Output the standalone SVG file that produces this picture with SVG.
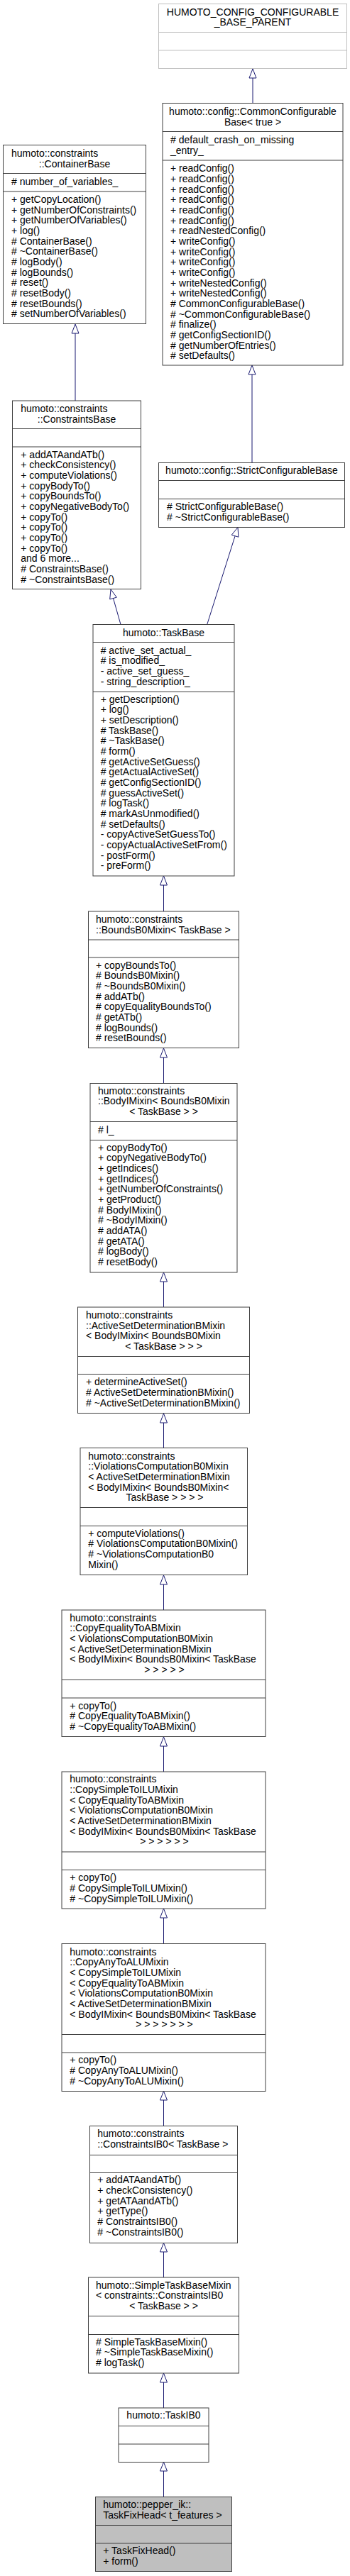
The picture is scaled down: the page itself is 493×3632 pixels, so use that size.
<svg xmlns="http://www.w3.org/2000/svg" width="493" height="3632" viewBox="0 0 493 3632">
<style>
text{font-family:"Liberation Sans",Arial,Helvetica,sans-serif;font-size:14px;fill:#000}
.c{text-anchor:middle}
.box{fill:#fff;stroke:#404040;stroke-width:1}
.lbox{fill:#fff;stroke:#bfbfbf;stroke-width:1}
.gbox{fill:#bfbfbf;stroke:#404040;stroke-width:1}
.sep{stroke:#404040;stroke-width:1}
.lsep{stroke:#bfbfbf;stroke-width:1}
.edge{stroke:#191970;stroke-width:1;fill:none}
.head{fill:#fff;stroke:#191970;stroke-width:1}
</style>
<rect width="493" height="3632" fill="#fff"/>
<g id="connectors">
<path class="edge" d="M356,110 V145.5"/><polygon class="head" points="356,97 351,110 361,110"/>
<path class="edge" d="M106,470 V565"/><polygon class="head" points="106,457 101,470 111,470"/>
<path class="edge" d="M355,528 V652.5"/><polygon class="head" points="355,515 350,528 360,528"/>
<path class="edge" d="M159.5,843.5 L170,880.5"/><polygon class="head" points="156,831 164.3,842.2 154.7,844.9"/>
<path class="edge" d="M331.1,755.7 L291.7,880.5"/><polygon class="head" points="335,743.5 335.9,757.2 326.3,754.2"/>
<path class="edge" d="M230.5,1248 V1285"/><polygon class="head" points="230.5,1235 225.5,1248 235.5,1248"/>
<path class="edge" d="M230.5,1491 V1527"/><polygon class="head" points="230.5,1478 225.5,1491 235.5,1491"/>
<path class="edge" d="M230.5,1807 V1843"/><polygon class="head" points="230.5,1794 225.5,1807 235.5,1807"/>
<path class="edge" d="M230.5,2006 V2041.5"/><polygon class="head" points="230.5,1993 225.5,2006 235.5,2006"/>
<path class="edge" d="M230.5,2234 V2270"/><polygon class="head" points="230.5,2221 225.5,2234 235.5,2234"/>
<path class="edge" d="M230.5,2462 V2498"/><polygon class="head" points="230.5,2449 225.5,2462 235.5,2462"/>
<path class="edge" d="M230.5,2704 V2740.5"/><polygon class="head" points="230.5,2691 225.5,2704 235.5,2704"/>
<path class="edge" d="M230.5,2961 V2997.5"/><polygon class="head" points="230.5,2948.5 225.5,2961 235.5,2961"/>
<path class="edge" d="M230.5,3175 V3211"/><polygon class="head" points="230.5,3162.5 225.5,3175 235.5,3175"/>
<path class="edge" d="M230.5,3359 V3395"/><polygon class="head" points="230.5,3346 225.5,3359 235.5,3359"/>
<path class="edge" d="M230.5,3484 V3520.5"/><polygon class="head" points="230.5,3471.5 225.5,3484 235.5,3484"/>
</g>
<g id="n1">
<rect class="lbox" x="223.5" y="5.5" width="265" height="91"/>
<line class="lsep" x1="223.5" y1="45.5" x2="488.5" y2="45.5"/>
<line class="lsep" x1="223.5" y1="71" x2="488.5" y2="71"/>
<text class="c" x="356" y="21.7">HUMOTO_CONFIG_CONFIGURABLE</text>
<text class="c" x="356" y="36.4">_BASE_PARENT</text>
</g>
<g id="n2">
<rect class="box" x="229" y="145.5" width="254" height="369.5"/>
<line class="sep" x1="229" y1="185.5" x2="483" y2="185.5"/>
<line class="sep" x1="229" y1="226" x2="483" y2="226"/>
<text class="c" x="356" y="162.3">humoto::config::CommonConfigurable</text>
<text class="c" x="356" y="177">Base&lt; true &gt;</text>
<text x="240" y="202.3">#  default_crash_on_missing<tspan x="240" dy="14.67">_entry_</tspan></text>
<text x="240" y="242.3">+ readConfig()<tspan x="240" dy="14.67">+ readConfig()</tspan><tspan x="240" dy="14.67">+ readConfig()</tspan><tspan x="240" dy="14.67">+ readConfig()</tspan><tspan x="240" dy="14.67">+ readConfig()</tspan><tspan x="240" dy="14.67">+ readConfig()</tspan><tspan x="240" dy="14.67">+ readNestedConfig()</tspan><tspan x="240" dy="14.67">+ writeConfig()</tspan><tspan x="240" dy="14.67">+ writeConfig()</tspan><tspan x="240" dy="14.67">+ writeConfig()</tspan><tspan x="240" dy="14.67">+ writeConfig()</tspan><tspan x="240" dy="14.67">+ writeNestedConfig()</tspan><tspan x="240" dy="14.67">+ writeNestedConfig()</tspan><tspan x="240" dy="14.67"># CommonConfigurableBase()</tspan><tspan x="240" dy="14.67"># ~CommonConfigurableBase()</tspan><tspan x="240" dy="14.67"># finalize()</tspan><tspan x="240" dy="14.67"># getConfigSectionID()</tspan><tspan x="240" dy="14.67"># getNumberOfEntries()</tspan><tspan x="240" dy="14.67"># setDefaults()</tspan></text>
</g>
<g id="n3">
<rect class="box" x="4.5" y="204.5" width="201" height="252"/>
<line class="sep" x1="4.5" y1="244.5" x2="205.5" y2="244.5"/>
<line class="sep" x1="4.5" y1="270" x2="205.5" y2="270"/>
<text x="16" y="221">humoto::constraints</text>
<text class="c" x="105" y="235.5">::ContainerBase</text>
<text x="16" y="261"># number_of_variables_</text>
<text x="16" y="286">+ getCopyLocation()<tspan x="16" dy="14.67">+ getNumberOfConstraints()</tspan><tspan x="16" dy="14.67">+ getNumberOfVariables()</tspan><tspan x="16" dy="14.67">+ log()</tspan><tspan x="16" dy="14.67"># ContainerBase()</tspan><tspan x="16" dy="14.67"># ~ContainerBase()</tspan><tspan x="16" dy="14.67"># logBody()</tspan><tspan x="16" dy="14.67"># logBounds()</tspan><tspan x="16" dy="14.67"># reset()</tspan><tspan x="16" dy="14.67"># resetBody()</tspan><tspan x="16" dy="14.67"># resetBounds()</tspan><tspan x="16" dy="14.67"># setNumberOfVariables()</tspan></text>
</g>
<g id="n4">
<rect class="box" x="17.5" y="565" width="181" height="265.5"/>
<line class="sep" x1="17.5" y1="604.5" x2="198.5" y2="604.5"/>
<line class="sep" x1="17.5" y1="630" x2="198.5" y2="630"/>
<text x="29.3" y="581">humoto::constraints</text>
<text class="c" x="108" y="595.5">::ConstraintsBase</text>
<text x="29.3" y="645.7">+ addATAandATb()<tspan x="29.3" dy="14.67">+ checkConsistency()</tspan><tspan x="29.3" dy="14.67">+ computeViolations()</tspan><tspan x="29.3" dy="14.67">+ copyBodyTo()</tspan><tspan x="29.3" dy="14.67">+ copyBoundsTo()</tspan><tspan x="29.3" dy="14.67">+ copyNegativeBodyTo()</tspan><tspan x="29.3" dy="14.67">+ copyTo()</tspan><tspan x="29.3" dy="14.67">+ copyTo()</tspan><tspan x="29.3" dy="14.67">+ copyTo()</tspan><tspan x="29.3" dy="14.67">+ copyTo()</tspan><tspan x="29.3" dy="14.67">and 6 more...</tspan><tspan x="29.3" dy="14.67"># ConstraintsBase()</tspan><tspan x="29.3" dy="14.67"># ~ConstraintsBase()</tspan></text>
</g>
<g id="n5">
<rect class="box" x="223.5" y="652.5" width="262" height="91"/>
<line class="sep" x1="223.5" y1="677.5" x2="485.5" y2="677.5"/>
<line class="sep" x1="223.5" y1="703.5" x2="485.5" y2="703.5"/>
<text class="c" x="354.5" y="668.3">humoto::config::StrictConfigurableBase</text>
<text x="235" y="719"># StrictConfigurableBase()<tspan x="235" dy="14.67"># ~StrictConfigurableBase()</tspan></text>
</g>
<g id="n6">
<rect class="box" x="131" y="880.5" width="199" height="354.5"/>
<line class="sep" x1="131" y1="905.5" x2="330" y2="905.5"/>
<line class="sep" x1="131" y1="975.5" x2="330" y2="975.5"/>
<text class="c" x="230.5" y="896.7">humoto::TaskBase</text>
<text x="141.7" y="921.7"># active_set_actual_<tspan x="141.7" dy="14.67"># is_modified_</tspan><tspan x="141.7" dy="14.67">- active_set_guess_</tspan><tspan x="141.7" dy="14.67">- string_description_</tspan></text>
<text x="141.7" y="990.7">+ getDescription()<tspan x="141.7" dy="14.67">+ log()</tspan><tspan x="141.7" dy="14.67">+ setDescription()</tspan><tspan x="141.7" dy="14.67"># TaskBase()</tspan><tspan x="141.7" dy="14.67"># ~TaskBase()</tspan><tspan x="141.7" dy="14.67"># form()</tspan><tspan x="141.7" dy="14.67"># getActiveSetGuess()</tspan><tspan x="141.7" dy="14.67"># getActualActiveSet()</tspan><tspan x="141.7" dy="14.67"># getConfigSectionID()</tspan><tspan x="141.7" dy="14.67"># guessActiveSet()</tspan><tspan x="141.7" dy="14.67"># logTask()</tspan><tspan x="141.7" dy="14.67"># markAsUnmodified()</tspan><tspan x="141.7" dy="14.67"># setDefaults()</tspan><tspan x="141.7" dy="14.67">- copyActiveSetGuessTo()</tspan><tspan x="141.7" dy="14.67">- copyActualActiveSetFrom()</tspan><tspan x="141.7" dy="14.67">- postForm()</tspan><tspan x="141.7" dy="14.67">- preForm()</tspan></text>
</g>
<g id="n7">
<rect class="box" x="124.5" y="1285" width="212" height="192.5"/>
<line class="sep" x1="124.5" y1="1325" x2="336.5" y2="1325"/>
<line class="sep" x1="124.5" y1="1350" x2="336.5" y2="1350"/>
<text x="135" y="1301">humoto::constraints<tspan x="135" dy="14.67">::BoundsB0Mixin&lt; TaskBase &gt;</tspan></text>
<text x="135" y="1365.7">+ copyBoundsTo()<tspan x="135" dy="14.67"># BoundsB0Mixin()</tspan><tspan x="135" dy="14.67"># ~BoundsB0Mixin()</tspan><tspan x="135" dy="14.67"># addATb()</tspan><tspan x="135" dy="14.67"># copyEqualityBoundsTo()</tspan><tspan x="135" dy="14.67"># getATb()</tspan><tspan x="135" dy="14.67"># logBounds()</tspan><tspan x="135" dy="14.67"># resetBounds()</tspan></text>
</g>
<g id="n8">
<rect class="box" x="127" y="1527.5" width="207" height="266.5"/>
<line class="sep" x1="127" y1="1581.5" x2="334" y2="1581.5"/>
<line class="sep" x1="127" y1="1607.5" x2="334" y2="1607.5"/>
<text x="138" y="1542.7">humoto::constraints<tspan x="138" dy="14.67">::BodyIMixin&lt; BoundsB0Mixin</tspan></text>
<text class="c" x="230.5" y="1572">&lt; TaskBase &gt; &gt;</text>
<text x="138" y="1598.3"># l_</text>
<text x="138" y="1622.7">+ copyBodyTo()<tspan x="138" dy="14.67">+ copyNegativeBodyTo()</tspan><tspan x="138" dy="14.67">+ getIndices()</tspan><tspan x="138" dy="14.67">+ getIndices()</tspan><tspan x="138" dy="14.67">+ getNumberOfConstraints()</tspan><tspan x="138" dy="14.67">+ getProduct()</tspan><tspan x="138" dy="14.67"># BodyIMixin()</tspan><tspan x="138" dy="14.67"># ~BodyIMixin()</tspan><tspan x="138" dy="14.67"># addATA()</tspan><tspan x="138" dy="14.67"># getATA()</tspan><tspan x="138" dy="14.67"># logBody()</tspan><tspan x="138" dy="14.67"># resetBody()</tspan></text>
</g>
<g id="n9">
<rect class="box" x="109.5" y="1843" width="242" height="149.5"/>
<line class="sep" x1="109.5" y1="1912.5" x2="351.5" y2="1912.5"/>
<line class="sep" x1="109.5" y1="1937.5" x2="351.5" y2="1937.5"/>
<text x="121" y="1859">humoto::constraints<tspan x="121" dy="14.67">::ActiveSetDeterminationBMixin</tspan><tspan x="121" dy="14.67">&lt; BodyIMixin&lt; BoundsB0Mixin</tspan></text>
<text class="c" x="230.5" y="1903">&lt; TaskBase &gt; &gt; &gt;</text>
<text x="121" y="1953.3">+ determineActiveSet()<tspan x="121" dy="14.67"># ActiveSetDeterminationBMixin()</tspan><tspan x="121" dy="14.67"># ~ActiveSetDeterminationBMixin()</tspan></text>
</g>
<g id="n10">
<rect class="box" x="113" y="2041.5" width="235.5" height="179"/>
<line class="sep" x1="113" y1="2125.5" x2="348.5" y2="2125.5"/>
<line class="sep" x1="113" y1="2151.5" x2="348.5" y2="2151.5"/>
<text x="124.3" y="2057.7">humoto::constraints<tspan x="124.3" dy="14.67">::ViolationsComputationB0Mixin</tspan><tspan x="124.3" dy="14.67">&lt; ActiveSetDeterminationBMixin</tspan><tspan x="124.3" dy="14.67">&lt; BodyIMixin&lt; BoundsB0Mixin&lt;</tspan></text>
<text class="c" x="232" y="2116.3">TaskBase &gt; &gt; &gt; &gt;</text>
<text x="124.3" y="2166.7">+ computeViolations()<tspan x="124.3" dy="14.67"># ViolationsComputationB0Mixin()</tspan><tspan x="124.3" dy="14.67"># ~ViolationsComputationB0</tspan><tspan x="124.3" dy="14.67">Mixin()</tspan></text>
</g>
<g id="n11">
<rect class="box" x="87" y="2270" width="287" height="178.5"/>
<line class="sep" x1="87" y1="2368.5" x2="374" y2="2368.5"/>
<line class="sep" x1="87" y1="2394" x2="374" y2="2394"/>
<text x="98.3" y="2285.7">humoto::constraints<tspan x="98.3" dy="14.67">::CopyEqualityToABMixin</tspan><tspan x="98.3" dy="14.67">&lt; ViolationsComputationB0Mixin</tspan><tspan x="98.3" dy="14.67">&lt; ActiveSetDeterminationBMixin</tspan><tspan x="98.3" dy="14.67">&lt; BodyIMixin&lt; BoundsB0Mixin&lt; TaskBase</tspan></text>
<text class="c" x="231.5" y="2359">&gt; &gt; &gt; &gt; &gt;</text>
<text x="98.3" y="2409.5">+ copyTo()<tspan x="98.3" dy="14.67"># CopyEqualityToABMixin()</tspan><tspan x="98.3" dy="14.67"># ~CopyEqualityToABMixin()</tspan></text>
</g>
<g id="n12">
<rect class="box" x="87" y="2498" width="287" height="193"/>
<line class="sep" x1="87" y1="2611" x2="374" y2="2611"/>
<line class="sep" x1="87" y1="2636.5" x2="374" y2="2636.5"/>
<text x="98.3" y="2513.3">humoto::constraints<tspan x="98.3" dy="14.67">::CopySimpleToILUMixin</tspan><tspan x="98.3" dy="14.67">&lt; CopyEqualityToABMixin</tspan><tspan x="98.3" dy="14.67">&lt; ViolationsComputationB0Mixin</tspan><tspan x="98.3" dy="14.67">&lt; ActiveSetDeterminationBMixin</tspan><tspan x="98.3" dy="14.67">&lt; BodyIMixin&lt; BoundsB0Mixin&lt; TaskBase</tspan></text>
<text class="c" x="231.5" y="2601.3">&gt; &gt; &gt; &gt; &gt; &gt;</text>
<text x="98.3" y="2652.3">+ copyTo()<tspan x="98.3" dy="14.67"># CopySimpleToILUMixin()</tspan><tspan x="98.3" dy="14.67"># ~CopySimpleToILUMixin()</tspan></text>
</g>
<g id="n13">
<rect class="box" x="87" y="2740.5" width="287" height="208"/>
<line class="sep" x1="87" y1="2868.5" x2="374" y2="2868.5"/>
<line class="sep" x1="87" y1="2894" x2="374" y2="2894"/>
<text x="98.3" y="2756.7">humoto::constraints<tspan x="98.3" dy="14.67">::CopyAnyToALUMixin</tspan><tspan x="98.3" dy="14.67">&lt; CopySimpleToILUMixin</tspan><tspan x="98.3" dy="14.67">&lt; CopyEqualityToABMixin</tspan><tspan x="98.3" dy="14.67">&lt; ViolationsComputationB0Mixin</tspan><tspan x="98.3" dy="14.67">&lt; ActiveSetDeterminationBMixin</tspan><tspan x="98.3" dy="14.67">&lt; BodyIMixin&lt; BoundsB0Mixin&lt; TaskBase</tspan></text>
<text class="c" x="231.5" y="2859.3">&gt; &gt; &gt; &gt; &gt; &gt; &gt;</text>
<text x="98.3" y="2909.3">+ copyTo()<tspan x="98.3" dy="14.67"># CopyAnyToALUMixin()</tspan><tspan x="98.3" dy="14.67"># ~CopyAnyToALUMixin()</tspan></text>
</g>
<g id="n14">
<rect class="box" x="126.5" y="2997.5" width="208" height="165"/>
<line class="sep" x1="126.5" y1="3038.5" x2="334.5" y2="3038.5"/>
<line class="sep" x1="126.5" y1="3063.5" x2="334.5" y2="3063.5"/>
<text x="137.3" y="3013.3">humoto::constraints<tspan x="137.3" dy="14.67">::ConstraintsIB0&lt; TaskBase &gt;</tspan></text>
<text x="137.3" y="3078.3">+ addATAandATb()<tspan x="137.3" dy="14.67">+ checkConsistency()</tspan><tspan x="137.3" dy="14.67">+ getATAandATb()</tspan><tspan x="137.3" dy="14.67">+ getType()</tspan><tspan x="137.3" dy="14.67"># ConstraintsIB0()</tspan><tspan x="137.3" dy="14.67"># ~ConstraintsIB0()</tspan></text>
</g>
<g id="n15">
<rect class="box" x="124.5" y="3211" width="212" height="135"/>
<line class="sep" x1="124.5" y1="3265.5" x2="336.5" y2="3265.5"/>
<line class="sep" x1="124.5" y1="3291.5" x2="336.5" y2="3291.5"/>
<text x="135" y="3226.7">humoto::SimpleTaskBaseMixin<tspan x="135" dy="14.67">&lt; constraints::ConstraintsIB0</tspan></text>
<text class="c" x="230.5" y="3256">&lt; TaskBase &gt; &gt;</text>
<text x="135" y="3306.7"># SimpleTaskBaseMixin()<tspan x="135" dy="14.67"># ~SimpleTaskBaseMixin()</tspan><tspan x="135" dy="14.67"># logTask()</tspan></text>
</g>
<g id="n16">
<rect class="box" x="167" y="3395" width="127" height="76.5"/>
<line class="sep" x1="167" y1="3420.5" x2="294" y2="3420.5"/>
<line class="sep" x1="167" y1="3446" x2="294" y2="3446"/>
<text class="c" x="230.5" y="3410.3">humoto::TaskIB0</text>
</g>
<g id="n17">
<rect class="gbox" x="134.5" y="3520.5" width="192" height="105"/>
<line class="sep" x1="134.5" y1="3560.5" x2="326.5" y2="3560.5"/>
<line class="sep" x1="134.5" y1="3586" x2="326.5" y2="3586"/>
<text x="145.3" y="3536.3">humoto::pepper_ik::<tspan x="145.3" dy="14.67">TaskFixHead&lt; t_features &gt;</tspan></text>
<text x="145.3" y="3601.3">+ TaskFixHead()<tspan x="145.3" dy="14.67">+ form()</tspan></text>
</g>
</svg>
